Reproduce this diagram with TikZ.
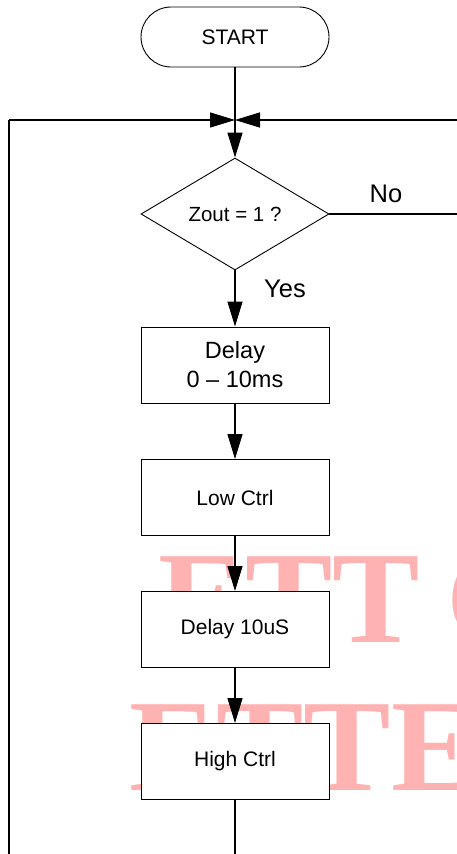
\documentclass[tikz,border=0pt]{standalone}
\usepackage{fontspec}
\setmainfont{Liberation Sans}
\newfontfamily\wmfont{Liberation Serif}
\usetikzlibrary{arrows.meta,shapes.geometric,shapes.misc}
\definecolor{wmpink}{RGB}{255,178,178}
\tikzset{
  conn/.style={line width=1.3pt, draw=black},
  arr/.style={conn, -{Triangle[length=25pt,width=15pt]}},
  procbox/.style={draw=black, line width=1pt, fill=white, rectangle, minimum width=188pt, minimum height=76pt, inner sep=0pt, align=center, font=\fontsize{21}{25}\selectfont},
  termbox/.style={draw=black, line width=0.9pt, fill=white, rounded rectangle, minimum width=188pt, minimum height=60pt, inner sep=0pt, font=\fontsize{21}{25}\selectfont},
  decbox/.style={draw=black, line width=0.9pt, fill=white, diamond, aspect=1.68, minimum width=188pt, minimum height=112pt, inner sep=0pt, font=\fontsize{20.5}{24}\selectfont},
  lbl/.style={inner sep=0pt, font=\fontsize{25.5}{30}\selectfont},
  wm/.style={inner sep=0pt, anchor=base west, text=wmpink, font=\wmfont\bfseries\fontsize{131}{131}\selectfont}
}
\begin{document}
\begin{tikzpicture}[x=1pt,y=-1pt]
\useasboundingbox (0,0) rectangle (457,854);
\begin{scope}
\clip (0,0) rectangle (457,854);
\node[wm] (wm1) at (158,642) {ETT\hspace{26pt}C};
\node[wm] (wm2) at (129,790) {ETTE};
\end{scope}
\node[termbox] (start) at (235,37) {START};
\coordinate (J) at (235,120);
\coordinate (Ltop) at (9,120);
\coordinate (Lbot) at (9,854);
\coordinate (Rtop) at (457,120);
\node[decbox] (dec) at (235,214) {Zout = 1 ?};
\coordinate (Rdec) at (457,214);
\node[procbox, font=\fontsize{23.5}{29}\selectfont] (d1) at (235,365) {Delay\\0 -- 10ms};
\node[procbox] (low) at (235,497.5) {Low Ctrl};
\node[procbox] (d2) at (235,629.5) {Delay 10uS};
\node[procbox] (high) at (235,761.5) {High Ctrl};
\coordinate (Bot) at (235,854);
\node[lbl] (no) at (386,194) {No};
\node[lbl] (yes) at (285,289) {Yes};
\draw[conn] (start.south) -- (J);
\draw[arr] (J) -- (dec.north);
\draw[conn] (Lbot) -- (Ltop);
\draw[arr] (Ltop) -- (J);
\draw[arr] (Rtop) -- (J);
\draw[conn] (dec.east) -- (Rdec);
\draw[arr] (dec.south) -- (d1.north);
\draw[arr] (d1.south) -- (low.north);
\draw[arr] (low.south) -- (d2.north);
\draw[arr] (d2.south) -- (high.north);
\draw[conn] (high.south) -- (Bot);
\end{tikzpicture}
\end{document}
